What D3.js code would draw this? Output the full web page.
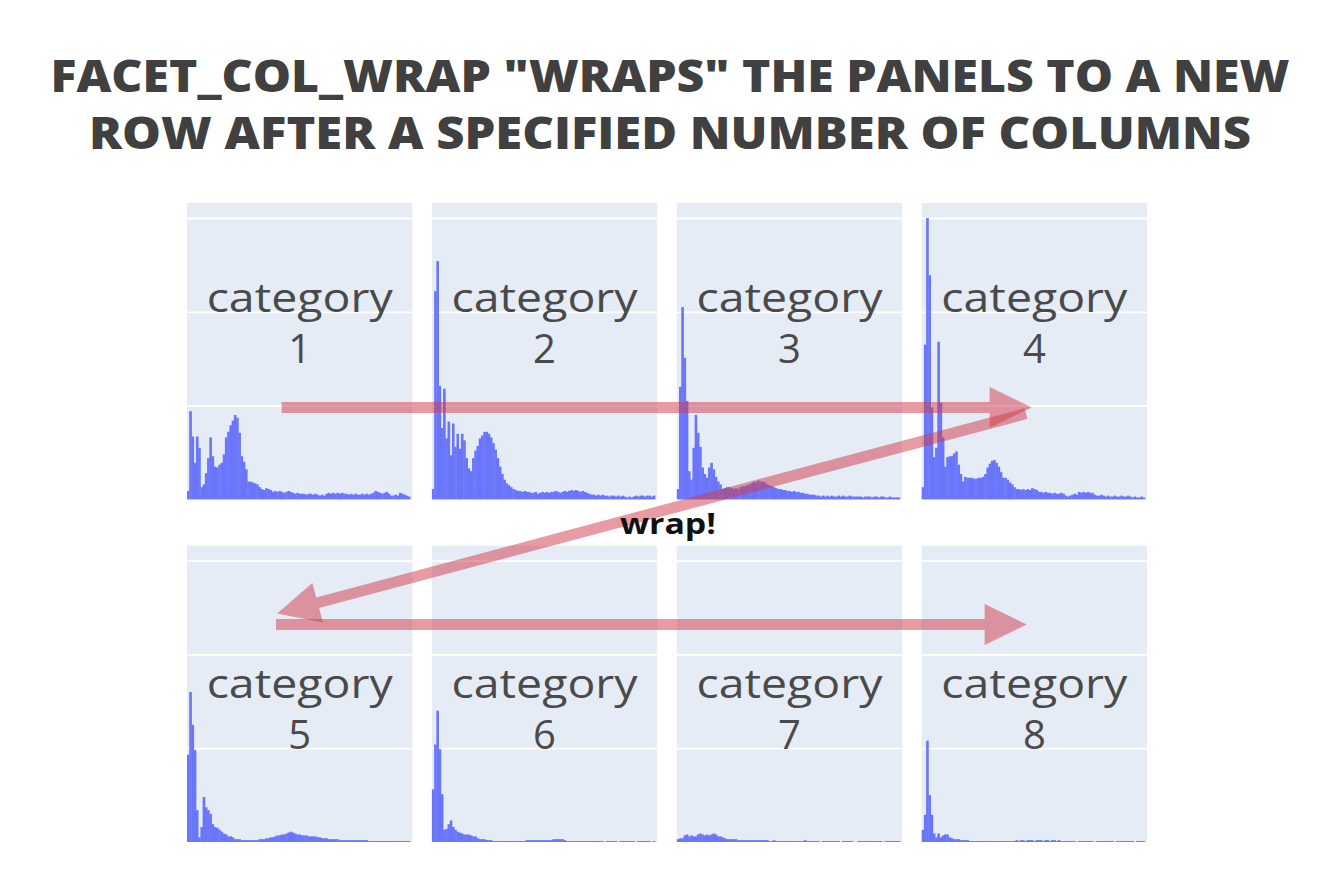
<!DOCTYPE html>
<html><head><meta charset="utf-8">
<script src="https://cdn.jsdelivr.net/npm/d3@7"></script>
<style>body{margin:0;background:#fff}</style>
</head><body><svg id="chart" width="1340" height="896"></svg>
<script>
// ---------- data ----------
const titleLines = ['FACET_COL_WRAP "WRAPS" THE PANELS TO A NEW', 'ROW AFTER A SPECIFIED NUMBER OF COLUMNS'];
const categoryNames = ["1","2","3","4","5","6","7","8"];
const categoryPrefix = "category";
const yTicks = [100, 200, 300];
const yMax = 316;
const binCount = 100;
const wrapLabel = "wrap!";
const colWrap = 4;

const cat1 = [9,94,67,39,67,55,13,16,28,44,66,46,35,34,37,39,48,66,72,79,84,90,87,71,46,40,32,19,19,18,17,16,13,11,10,12,11,10,8,9,8,9,8,7,8,9,8,7,6,7,6,6,6,5,6,6,5,6,5,4,5,4,6,7,6,7,6,7,6,7,6,6,5,6,5,6,5,5,6,5,6,5,6,7,9,8,7,6,7,8,6,4,4,5,4,7,6,5,4,3];
const cat2 = [11,222,254,121,76,118,65,83,47,81,56,70,54,70,63,44,33,30,44,52,57,65,68,72,72,70,66,60,53,44,35,27,21,17,15,13,11,10,9,9,8,9,8,8,7,7,8,6,7,8,7,8,7,8,8,9,8,7,8,9,8,9,10,9,10,9,8,9,8,7,6,5,5,4,5,4,5,4,4,3,4,4,3,4,3,4,3,2,3,2,3,4,3,4,4,3,4,4,3,4];
const cat3 = [11,120,205,151,105,30,21,55,90,71,56,34,27,23,34,39,32,24,19,16,11,12,13,13,12,11,12,11,13,14,14,15,16,17,19,18,20,19,19,18,16,15,14,13,12,11,11,10,10,9,9,8,9,8,8,7,7,6,6,5,5,5,4,4,3,4,3,4,3,4,3,3,4,3,4,3,3,4,3,3,3,3,3,2,3,3,3,2,3,3,2,3,3,2,2,3,2,2,2,2];
const cat4 = [13,165,300,239,98,45,55,168,103,66,35,45,46,46,49,51,37,27,19,24,23,23,23,22,22,23,23,24,27,34,38,41,42,39,35,29,23,23,21,18,16,13,11,11,10,11,10,11,10,12,11,10,8,8,7,8,7,7,6,7,6,6,7,6,4,3,4,5,6,5,8,7,8,7,8,7,7,5,4,4,5,4,3,4,3,3,4,3,3,4,3,3,4,3,2,3,2,2,3,2];
const cat5 = [93,160,125,98,34,5,16,48,37,34,30,19,16,15,13,11,9,8,6,6,5,3,3,3,2,2,2,2,2,2,2,2,3,3,3,4,4,5,5,6,7,7,8,8,9,10,11,10,9,8,8,7,7,7,6,6,6,6,5,5,4,4,4,3,3,3,3,3,2,2,2,2,2,2,2,2,2,2,2,2,2,1,1,1,1,1,1,1,1,1,1,1,1,1,1,1,1,1,1,1];
const cat6 = [56,104,140,99,51,13,14,19,23,16,13,11,10,9,8,8,8,7,6,6,4,3,3,3,2,2,2,1,1,1,1,1,1,1,1,1,1,1,1,1,1,1,2,2,2,2,2,2,2,2,2,2,2,2,3,3,3,3,3,2,1,1,1,1,1,1,1,1,1,1,1,1,1,1,1,1,1,0,1,1,1,1,1,0,1,1,1,1,1,1,1,0,1,1,1,1,1,1,0,1];
const cat7 = [3,4,4,7,8,6,7,6,6,8,9,8,7,8,7,8,9,8,6,6,5,4,3,3,3,3,3,2,2,2,2,2,2,2,2,2,2,2,2,2,2,1,1,2,1,1,1,1,1,1,1,1,1,1,1,1,1,2,1,1,1,1,1,1,0,1,1,1,1,1,1,1,1,0,1,1,1,1,1,0,0,1,1,1,1,1,1,1,1,1,1,1,0,1,1,1,1,1,1,1];
const cat8 = [13,29,108,50,29,9,5,9,5,7,8,8,5,4,3,3,3,2,2,2,2,1,1,1,1,1,1,1,1,1,1,1,1,1,1,1,1,1,1,1,1,1,2,1,2,2,1,2,2,2,1,2,2,2,1,2,2,1,2,2,1,2,1,1,1,1,1,1,1,0,1,1,1,1,1,1,1,0,1,1,1,1,1,1,1,1,0,1,1,1,1,1,1,1,1,0,1,1,1,1];
const series = [cat1, cat2, cat3, cat4, cat5, cat6, cat7, cat8];

// arrows in panel terms: col, fraction across panel, row, y value
const arrowFrom = [{col:0, fx:0.42, row:0, v:98}, {col:3, fx:0.463, row:0, v:91.5}, {col:0, fx:0.395, row:1, v:232}];
const arrowTo   = [{col:3, fx:0.488, row:0, v:98}, {col:0, fx:0.40, row:1, v:243.6}, {col:3, fx:0.466, row:1, v:232}];

// ---------- layout ----------
const svg = d3.select("#chart");
svg.append("rect").attr("width",1340).attr("height",896).attr("fill","#fff");

const colScale = d3.scaleBand().domain(d3.range(colWrap)).range([187, 1147]).paddingInner(0.08);
const rowScale = d3.scaleBand().domain([0,1]).range([203, 842]).paddingInner(0.135);
const bw = colScale.bandwidth();
const bh = rowScale.bandwidth();
const x = d3.scaleLinear().domain([0, binCount + 1]).range([0, bw]);
const y = d3.scaleLinear().domain([0, yMax]).range([bh, 0]);

// title
svg.selectAll("text.title").data(titleLines).join("text")
  .attr("class","title")
  .attr("x", 670).attr("y", (d,i)=> 92 + i*57)
  .attr("text-anchor","middle")
  .attr("font-family","'Open Sans', sans-serif")
  .attr("font-weight", 800)
  .attr("font-size", 45)
  .attr("fill", "#404040")
  .attr("textLength", (d,i)=> i===0 ? 1239 : 1162)
  .attr("lengthAdjust","spacingAndGlyphs")
  .text(d=>d);

const panels = svg.selectAll("g.panel").data(series).join("g")
  .attr("class","panel")
  .attr("transform",(d,i)=>`translate(${colScale(i%colWrap)},${rowScale(Math.floor(i/colWrap))})`);

panels.append("rect").attr("width", bw).attr("height", bh).attr("fill","#e5ecf6");

panels.each(function(){
  const g = d3.select(this);
  const ax = g.append("g").call(d3.axisLeft(y).tickValues(yTicks).tickSize(-bw).tickFormat(""));
  ax.select(".domain").remove();
  ax.selectAll("line").attr("stroke","#fff").attr("stroke-width",1.8);
});

panels.selectAll("rect.bar").data(d=>d).join("rect")
  .attr("class","bar")
  .attr("x",(d,i)=>x(i))
  .attr("width",(d,i)=>x(i+1)-x(i)+0.4)
  .attr("y",d=>y(d))
  .attr("height",d=>y(0)-y(d))
  .attr("fill","rgb(106,118,250)");

// labels
panels.each(function(d,i){
  const g = d3.select(this);
  const row = Math.floor(i/colWrap);
  const base = row === 0 ? 109 : 152;
  const t = g.append("text")
    .attr("text-anchor","middle")
    .attr("font-family","'Open Sans', sans-serif")
    .attr("font-weight",500)
    .attr("font-size",40)
    .attr("fill","#4a4a4a");
  t.append("tspan").attr("x", bw/2).attr("y", base).attr("textLength",186).attr("lengthAdjust","spacingAndGlyphs").text(categoryPrefix);
  t.append("tspan").attr("x", bw/2).attr("y", base+51).text(categoryNames[i]);
});

// arrows
function pt(p){
  return [colScale(p.col) + p.fx*bw, rowScale(p.row) + y(p.v)];
}
function arrowPath(s, t){
  const w = 11, L = 42, H = 20.5;
  const dx = t[0]-s[0], dy = t[1]-s[1], len = Math.hypot(dx,dy);
  const ux = dx/len, uy = dy/len, nx = -uy, ny = ux;
  const bx = t[0]-ux*L, by = t[1]-uy*L;
  const P = [
    [s[0]+nx*w/2, s[1]+ny*w/2],[bx+nx*w/2, by+ny*w/2],[bx+nx*H, by+ny*H],[t[0],t[1]],
    [bx-nx*H, by-ny*H],[bx-nx*w/2, by-ny*w/2],[s[0]-nx*w/2, s[1]-ny*w/2]];
  return "M" + P.map(p=>p.join(",")).join("L") + "Z";
}
svg.selectAll("path.arrow").data(arrowFrom).join("path")
  .attr("class","arrow")
  .attr("d",(d,i)=>arrowPath(pt(d), pt(arrowTo[i])))
  .attr("fill","rgb(210,55,70)")
  .attr("fill-opacity",0.5);

svg.append("text")
  .attr("x", 668).attr("y", 534)
  .attr("text-anchor","middle")
  .attr("font-family","'Open Sans', sans-serif")
  .attr("font-weight",700)
  .attr("font-size",29)
  .attr("textLength",96).attr("lengthAdjust","spacingAndGlyphs")
  .attr("fill","#111")
  .text(wrapLabel);
</script>
</body></html>
